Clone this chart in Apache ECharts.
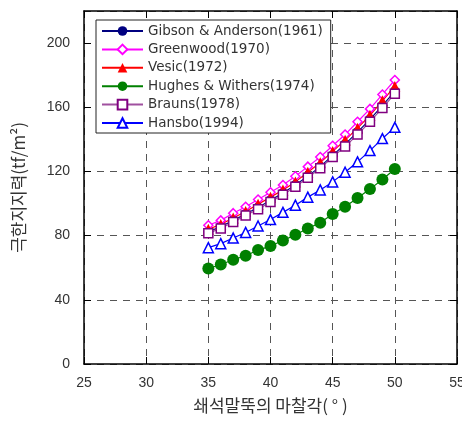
<!DOCTYPE html>
<html><head><meta charset="utf-8">
<script src="https://cdn.jsdelivr.net/npm/echarts@6/dist/echarts.min.js"></script>
<style>html,body{margin:0;padding:0;background:#fff}#c{width:462px;height:421px}</style>
</head><body><div id="c"></div>
<script>
const angles = [35,36,37,38,39,40,41,42,43,44,45,46,47,48,49,50];
const gibson   = [82.5,85.5,89.5,93.5,97.5,102,106.5,111.5,117,123,130,137,144.5,152.5,161,170];
const greenwood= [86.5,89.5,94,98,102.5,107,111.5,117,123,129,136,143,151,159,168,177];
const vesic    = [84,87,91,95,99.5,104,108.5,113.5,119.5,125.5,132.5,139.5,147,155,164,173];
const hughes   = [59.5,62,65,67.5,71,73.5,77,80.5,84.5,88,93.5,98,103.5,109,115,121.5];
const brauns   = [81.5,84.5,88.5,92.5,96.5,101,105.5,110.5,116,122,129,135.5,143,151,159.5,168.5];
const hansbo   = [72.5,75,78.5,82,86,90,94.5,99,104,108.5,113.5,119.5,126,133,140.5,147.5];
const names = ['Gibson & Anderson(1961)','Greenwood(1970)','Vesic(1972)','Hughes & Withers(1974)','Brauns(1978)','Hansbo(1994)'];

function pts(v){ return angles.map((a,i)=>[a,v[i]]); }
const font = 'Liberation Sans, Arial, sans-serif';
function s(name, data, color, symbol, size, filled, lineColor){
  return {name, type:'line', data:pts(data), symbol, symbolSize:size,
    lineStyle:{color:lineColor||color, width:1.2},
    itemStyle:{color: filled?color:'#fff', borderColor:color, borderWidth: filled?0:1.5},
    emphasis:{disabled:true}, z: 3};
}
const chart = echarts.init(document.getElementById('c'), null, {renderer:'canvas'});
const gridDash = {show:true, lineStyle:{color:'#555', type:[7,6], width:1}};
chart.setOption({
  animation:false,
  textStyle:{fontFamily:font},
  grid:{left:84, right:5, top:11, bottom:57, show:false, outerBoundsMode:'none', containLabel:false},
  legend:{
    orient:'vertical', left:96, top:20, itemWidth:41, itemHeight:12, itemGap:4.4,
    backgroundColor:'#fff', borderColor:'#222', borderWidth:1, padding:[4,8,3,5],
    textStyle:{fontSize:13.5, color:'#333', fontFamily:'DejaVu Sans, sans-serif'},
    data: names
  },
  xAxis:[{type:'value', min:25, max:55, interval:5,
    axisLine:{show:true, onZero:false, lineStyle:{color:'#000', width:1.5}},
    axisTick:{show:true, inside:true, length:7, lineStyle:{color:'#000'}},
    axisLabel:{fontSize:14, color:'#333', margin:12},
    splitLine:gridDash,
    name:'쇄석말뚝의 마찰각( ° )', nameLocation:'middle', nameGap:33,
    nameTextStyle:{fontSize:17, color:'#333', fontFamily:'Noto Sans CJK KR, sans-serif'}
  },{type:'value', min:25, max:55, interval:5, position:'top',
    axisLine:{show:true, onZero:false, lineStyle:{color:'#000', width:1.5}},
    axisTick:{show:true, inside:true, length:7, lineStyle:{color:'#000'}},
    axisLabel:{show:false}, splitLine:{show:false}}],
  yAxis:[{type:'value', min:0, max:220, interval:40,
    axisLine:{show:true, onZero:false, lineStyle:{color:'#000', width:1.5}},
    axisTick:{show:true, inside:true, length:7, lineStyle:{color:'#000'}},
    axisLabel:{fontSize:14, color:'#333', margin:14, showMaxLabel:false,
      formatter:v=> v>200?'':v},
    splitLine:gridDash,
    name:'극한지지력(tf/m²)', nameLocation:'middle', nameGap:57, nameRotate:90,
    nameTextStyle:{fontSize:17, color:'#333', fontFamily:'Noto Sans CJK KR, sans-serif'}
  },{type:'value', min:0, max:220, interval:40, position:'right',
    axisLine:{show:true, onZero:false, lineStyle:{color:'#000', width:1.5}},
    axisTick:{show:true, inside:true, length:7, lineStyle:{color:'#000'}},
    axisLabel:{show:false}, splitLine:{show:false}}],
  series:[
    s(names[0], gibson, '#000080', 'circle', 10, true, '#000080'),
    s(names[1], greenwood, '#ff00ff', 'diamond', 9, false),
    s(names[2], vesic, '#ff0000', 'triangle', 11, true),
    s(names[3], hughes, '#008000', 'circle', 12, true),
    s(names[4], brauns, '#800080', 'rect', 9, false, '#a0509f'),
    s(names[5], hansbo, '#0000ff', 'triangle', 10, false)
  ]
});
</script></body></html>
